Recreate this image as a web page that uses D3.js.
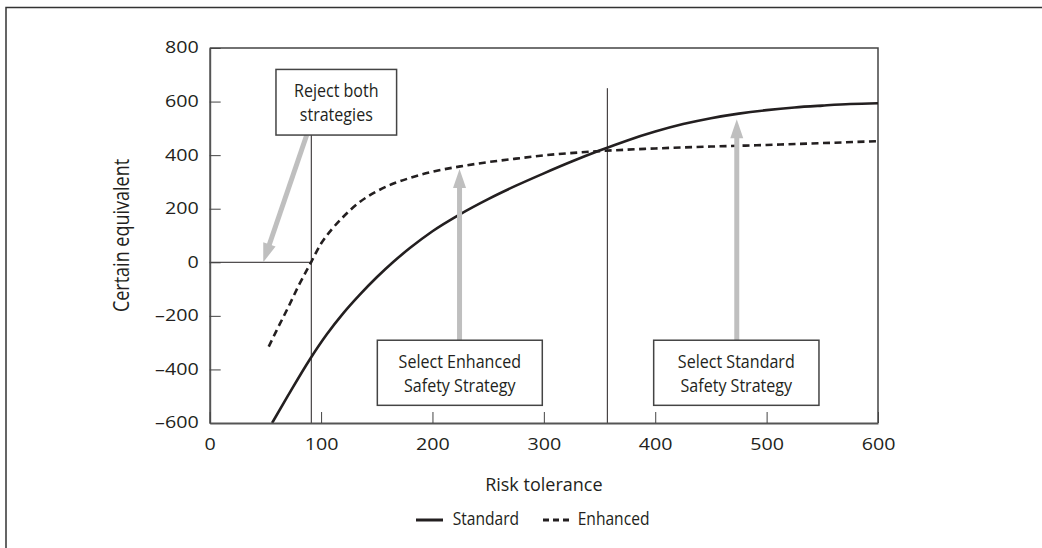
<!DOCTYPE html>
<html>
<head>
<meta charset="utf-8">
<script src="https://cdn.jsdelivr.net/npm/d3@7"></script>
<style>
  html, body { margin: 0; padding: 0; background: #fff; }
  svg { display: block; }
  text { font-family: "Open Sans", "Noto Sans", sans-serif; fill: #231f20; }
</style>
</head>
<body>
<svg id="chart" width="1042" height="548"></svg>
<script>
// Risk tolerance (x) and certain equivalent (y) for each strategy
const standardRisk = [56, 70, 90, 105, 120, 135, 150, 165, 180, 200, 225, 250, 275, 300, 325, 350, 375, 400, 425, 450, 475, 500, 525, 550, 575, 600];
const standardCE   = [-600, -500, -362, -270, -190, -120, -56, 2, 54, 116, 180, 236, 286, 332, 376, 417, 455, 488, 516, 538, 555, 568, 578, 585, 591, 594];

const enhancedRisk = [53, 60, 70, 80, 91, 100, 110, 120, 135, 150, 165, 180, 200, 225, 250, 275, 300, 350, 400, 450, 500, 550, 600];
const enhancedCE   = [-315, -255, -172, -86, 0, 70, 125, 170, 226, 265, 294, 315, 338, 358, 374, 387, 399, 415, 425, 432, 438, 445, 452];

const xTicks = [0, 100, 200, 300, 400, 500, 600];
const yTicks = [-600, -400, -200, 0, 200, 400, 600, 800];

const seriesNames = ["Standard", "Enhanced"];

// Decision thresholds on risk tolerance
const rejectThreshold = 91.2;
const switchThreshold = 357;

// Annotation boxes, in data units
const boxLabels = [
  ["Reject both", "strategies"],
  ["Select Enhanced", "Safety Strategy"],
  ["Select Standard", "Safety Strategy"]
];
const boxX0 = [59.5, 150.5, 398.6];
const boxX1 = [167.8, 298.6, 547];
const boxYTop = [720, -291, -291];
const boxYBottom = [475, -534, -534];

// Pointer arrows: from (x0,y0) to tip (x1,y1), data units
const arrowX0 = [87.1, 224.3, 473.2];
const arrowY0 = [475, -291, -291];
const arrowX1 = [48.1, 224.3, 473.2];
const arrowY1 = [0, 348, 534];

const svg = d3.select("#chart");
const ink = "#231f20";

// Squeeze or widen a text run horizontally by a factor
function fitWidth(sel, factor) {
  sel.each(function () {
    const w = this.getComputedTextLength();
    d3.select(this)
      .attr("textLength", w * factor)
      .attr("lengthAdjust", "spacingAndGlyphs");
  });
}

// Outer frame (left and top edges)
svg.append("path")
  .attr("d", "M6,548 V7.5 H1042")
  .attr("fill", "none")
  .attr("stroke", "#333")
  .attr("stroke-width", 1.5);

const x = d3.scaleLinear().domain([0, 600]).range([209.7, 878]);
const y = d3.scaleLinear().domain([-600, 800]).range([423, 48]);

// Plot frame: top and right edges
svg.append("path")
  .attr("d", `M${x(0)},${y(800)} H${x(600)} V${y(-600)}`)
  .attr("fill", "none")
  .attr("stroke", "#444")
  .attr("stroke-width", 1.5);

// Threshold lines
const g = svg.append("g");
g.append("line")
  .attr("x1", x(0)).attr("x2", x(rejectThreshold))
  .attr("y1", y(0)).attr("y2", y(0))
  .attr("stroke", ink).attr("stroke-width", 1);
g.append("line")
  .attr("x1", x(rejectThreshold)).attr("x2", x(rejectThreshold))
  .attr("y1", y(boxYBottom[0])).attr("y2", y(-600))
  .attr("stroke", ink).attr("stroke-width", 1);
g.append("line")
  .attr("x1", x(switchThreshold)).attr("x2", x(switchThreshold))
  .attr("y1", y(650)).attr("y2", y(-600))
  .attr("stroke", ink).attr("stroke-width", 1);

// Curves
const line = d3.line()
  .x(d => x(d[0]))
  .y(d => y(d[1]))
  .curve(d3.curveMonotoneX);

const standardPts = standardRisk.map((r, i) => [r, standardCE[i]]);
const enhancedPts = enhancedRisk.map((r, i) => [r, enhancedCE[i]]);

g.append("path")
  .datum(enhancedPts)
  .attr("d", line)
  .attr("fill", "none")
  .attr("stroke", ink)
  .attr("stroke-width", 2.6)
  .attr("stroke-dasharray", "7,4.5");

g.append("path")
  .datum(standardPts)
  .attr("d", line)
  .attr("fill", "none")
  .attr("stroke", ink)
  .attr("stroke-width", 2.6);

// Gray pointer arrows
const arrowColor = "#bfbfbf";
const headLen = 19, headHalf = 6.5, shaftW = 5;
arrowX0.forEach((ax, i) => {
  const sx = x(ax), sy = y(arrowY0[i]);
  const tx = x(arrowX1[i]), ty = y(arrowY1[i]);
  const dx = tx - sx, dy = ty - sy;
  const len = Math.hypot(dx, dy);
  const ux = dx / len, uy = dy / len;
  const bx = tx - ux * headLen, by = ty - uy * headLen;
  g.append("line")
    .attr("x1", sx).attr("y1", sy)
    .attr("x2", bx + ux * 1).attr("y2", by + uy * 1)
    .attr("stroke", arrowColor)
    .attr("stroke-width", shaftW);
  g.append("path")
    .attr("d", `M${tx},${ty} L${bx - uy * headHalf},${by + ux * headHalf} L${bx + uy * headHalf},${by - ux * headHalf} Z`)
    .attr("fill", arrowColor);
});

// Annotation boxes
boxLabels.forEach((lines, i) => {
  const x0 = x(boxX0[i]), x1 = x(boxX1[i]);
  const y0 = y(boxYTop[i]), y1 = y(boxYBottom[i]);
  g.append("rect")
    .attr("x", x0).attr("y", y0)
    .attr("width", x1 - x0).attr("height", y1 - y0)
    .attr("fill", "#fff")
    .attr("stroke", "#444")
    .attr("stroke-width", 1.5);
  const cx = (x0 + x1) / 2, cy = (y0 + y1) / 2;
  lines.forEach((t, j) => {
    g.append("text")
      .attr("class", "box-label")
      .attr("x", cx)
      .attr("y", cy + (j - 0.5) * 24)
      .attr("dy", "0.36em")
      .attr("text-anchor", "middle")
      .style("font-size", "19px")
      .text(t);
  });
});
fitWidth(g.selectAll(".box-label"), 0.845);

// Axes
const fmt = d => d < 0 ? "\u2013" + Math.abs(d) : String(d);

const yAxis = svg.append("g")
  .attr("transform", `translate(${x(0)},0)`)
  .call(d3.axisLeft(y).tickValues(yTicks).tickFormat(fmt).tickSize(-11).tickSizeOuter(0).tickPadding(11));
const xAxis = svg.append("g")
  .attr("transform", `translate(0,${y(-600)})`)
  .call(d3.axisBottom(x).tickValues(xTicks).tickFormat(fmt).tickSize(-11).tickSizeOuter(0).tickPadding(16));

[yAxis, xAxis].forEach(a => {
  a.select(".domain").attr("stroke", "#555").attr("stroke-width", 2);
  a.selectAll(".tick line").attr("stroke", "#444").attr("stroke-width", 1);
  a.selectAll(".tick text")
    .attr("fill", ink)
    .style("font-family", "'Open Sans', 'Noto Sans', sans-serif")
    .style("font-size", "15.5px");
  fitWidth(a.selectAll(".tick text"), 1.27);
});

// Axis titles
svg.append("text")
  .attr("x", (x(0) + x(600)) / 2)
  .attr("y", 491)
  .attr("text-anchor", "middle")
  .style("font-size", "18px")
  .text("Risk tolerance");

svg.append("text")
  .attr("transform", `translate(129,${(y(-600) + y(800)) / 2}) scale(1.2,1) rotate(-90)`)
  .attr("text-anchor", "middle")
  .style("font-size", "18px")
  .text("Certain equivalent");

// Legend
const legend = svg.append("g");
const legendX = [416, 543];
const legendTextX = [452.7, 577.7];
seriesNames.forEach((name, i) => {
  legend.append("line")
    .attr("x1", legendX[i]).attr("x2", legendX[i] + 27)
    .attr("y1", 520).attr("y2", 520)
    .attr("stroke", ink)
    .attr("stroke-width", 3)
    .attr("stroke-dasharray", i === 1 ? "6,4" : null);
  legend.append("text")
    .attr("class", "legend-label")
    .attr("x", legendTextX[i])
    .attr("y", 518)
    .attr("dy", "0.36em")
    .style("font-size", "19px")
    .text(name);
});
fitWidth(legend.selectAll(".legend-label"), 0.82);
</script>
</body>
</html>
